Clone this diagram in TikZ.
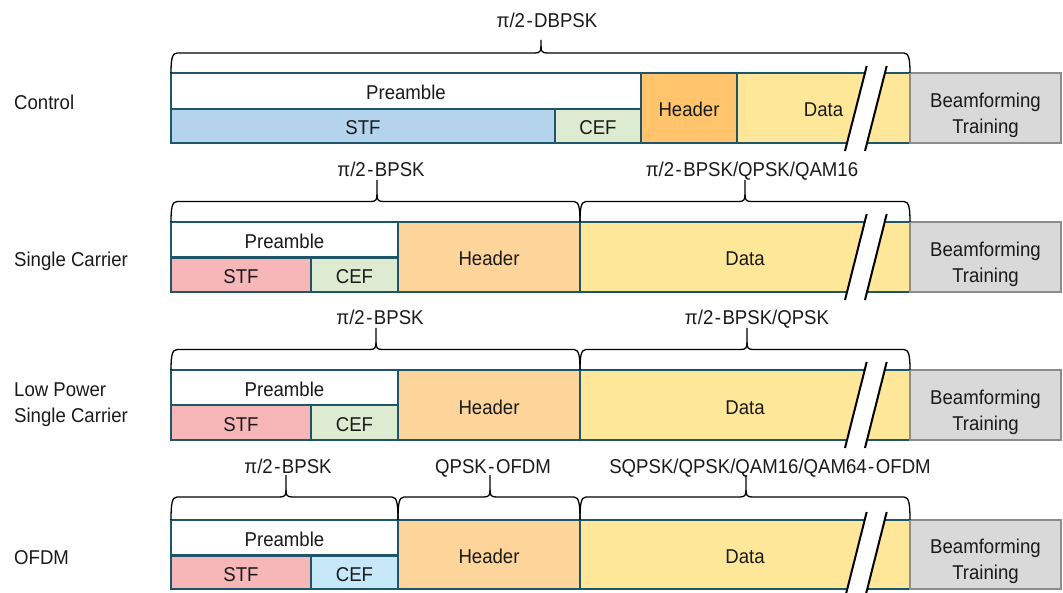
\documentclass[tikz,border=0pt]{standalone}
\usepackage{fontspec}
\setmainfont{Liberation Sans}[FakeStretch=0.93]
\definecolor{edge}{RGB}{30,85,105}
\definecolor{stfblue}{RGB}{180,212,238}
\definecolor{cefgreen}{RGB}{221,235,209}
\definecolor{hdrorange}{RGB}{255,196,108}
\definecolor{hdrlight}{RGB}{253,213,155}
\definecolor{datayellow}{RGB}{255,231,153}
\definecolor{beamfill}{RGB}{217,217,217}
\definecolor{beamedge}{RGB}{140,140,140}
\definecolor{stfpink}{RGB}{247,183,185}
\definecolor{cefcyan}{RGB}{198,232,248}
\definecolor{txt}{RGB}{26,26,26}
\newcommand\hy{\kern1.5pt-\kern1.5pt}
% name, x1, y1, x2, y2, style, text
\newcommand\cellnode[7]{%
  \node[#6, anchor=north west, minimum width={(#4-#2)*1pt}, minimum height={(#5-#3)*1pt}] (#1) at (#2,#3) {#7};}
\newcommand\mybrace[6]{%
  \draw[bracestyle] (#1,#4) .. controls (#1,#5+7) and (#1+1,#5) .. (#1+6,#5) -- (#3-6,#5)
     .. controls (#3-1,#5) and (#3,#5-2) .. (#3,#5-7) -- (#3,#6);
  \draw[bracestyle] (#3,#5-7) .. controls (#3,#5-2) and (#3+1,#5) .. (#3+6,#5) -- (#2-6,#5)
     .. controls (#2-1,#5) and (#2,#5+7) .. (#2,#4);}
\newcommand\mybreak[2]{%
  \fill[white] (866.7,#1) -- (886.7,#1) -- (865,#2) -- (845,#2) -- cycle;
  \draw[breakline] (866.7,#1) -- (845,#2);
  \draw[breakline] (886.7,#1) -- (865,#2);}
\tikzset{
  fnt/.style={font=\fontsize{20}{26}\selectfont, text=txt},
  cell/.style={fnt, draw=edge, line width=2.6pt, inner sep=0pt, outer sep=0pt, text height=18pt, text depth=0pt},
  beam/.style={draw=beamedge, fill=beamfill, line width=2.6pt, inner sep=0pt, outer sep=0pt},
  beamtxt/.style={fnt, align=center, inner sep=0pt},
  lbl/.style={fnt, anchor=base, inner sep=0pt},
  side/.style={fnt, inner sep=0pt, align=left},
  bracestyle/.style={line width=1.3pt, black},
  breakline/.style={line width=2pt, black},
}
\begin{document}
\begin{tikzpicture}[x=1pt,y=-1pt]
\useasboundingbox (0,0) rectangle (1063,593);
% ---------- Row 1: Control
\node[side, anchor=base west] (s1) at (14,110) {Control};
\cellnode{c1pre}{171}{73}{641}{109}{cell,fill=white}{Preamble}
\cellnode{c1stf}{171}{109}{555}{143}{cell,fill=stfblue}{STF}
\cellnode{c1cef}{555}{109}{641}{143}{cell,fill=cefgreen}{CEF}
\cellnode{c1hdr}{641}{73}{737}{143}{cell,fill=hdrorange}{Header}
\cellnode{c1dat}{737}{73}{910}{143}{cell,fill=datayellow}{Data}
\cellnode{b1}{910}{73}{1061}{143}{beam}{}
\node[beamtxt] (b1t) at ([yshift=-7pt]b1.center) {Beamforming\\Training};
\mybrace{171}{910}{541}{73}{53}{40}
\node[lbl] (m1) at (547,28) {π/2\hy DBPSK};
\mybreak{66}{151}
% ---------- Row 2: Single Carrier
\node[side, anchor=base west] (s2) at (14,267) {Single Carrier};
\cellnode{c2pre}{171}{222}{398}{257.5}{cell,fill=white}{Preamble}
\cellnode{c2stf}{171}{257.5}{311}{292}{cell,fill=stfpink}{STF}
\cellnode{c2cef}{311}{257.5}{398}{292}{cell,fill=cefgreen}{CEF}
\cellnode{c2hdr}{398}{222}{580}{292}{cell,fill=hdrlight}{Header}
\cellnode{c2dat}{580}{222}{910}{292}{cell,fill=datayellow}{Data}
\cellnode{b2}{910}{222}{1061}{292}{beam}{}
\node[beamtxt] (b2t) at ([yshift=-7pt]b2.center) {Beamforming\\Training};
\mybrace{171}{580}{377}{222}{201.5}{180}
\mybrace{580}{910}{745}{222}{201.5}{180}
\node[lbl] (m2a) at (381,177) {π/2\hy BPSK};
\node[lbl] (m2b) at (752,177) {π/2\hy BPSK/QPSK/QAM16};
\mybreak{214}{300}
% ---------- Row 3: Low Power Single Carrier
\node[side, anchor=west] (s3) at (14,405) {Low Power\\Single Carrier};
\cellnode{c3pre}{171}{370}{398}{405}{cell,fill=white}{Preamble}
\cellnode{c3stf}{171}{405}{311}{440}{cell,fill=stfpink}{STF}
\cellnode{c3cef}{311}{405}{398}{440}{cell,fill=cefgreen}{CEF}
\cellnode{c3hdr}{398}{370}{580}{440}{cell,fill=hdrlight}{Header}
\cellnode{c3dat}{580}{370}{910}{440}{cell,fill=datayellow}{Data}
\cellnode{b3}{910}{370}{1061}{440}{beam}{}
\node[beamtxt] (b3t) at ([yshift=-7pt]b3.center) {Beamforming\\Training};
\mybrace{171}{580}{376}{370}{349.5}{328}
\mybrace{580}{910}{747}{370}{349.5}{328}
\node[lbl] (m3a) at (380,325) {π/2\hy BPSK};
\node[lbl] (m3b) at (757,325) {π/2\hy BPSK/QPSK};
\mybreak{362}{448}
% ---------- Row 4: OFDM
\node[side, anchor=base west] (s4) at (14,564) {OFDM};
\cellnode{c4pre}{171}{520}{398}{555.5}{cell,fill=white}{Preamble}
\cellnode{c4stf}{171}{555.5}{311}{589}{cell,fill=stfpink}{STF}
\cellnode{c4cef}{311}{555.5}{398}{589}{cell,fill=cefcyan}{CEF}
\cellnode{c4hdr}{398}{520}{580}{589}{cell,fill=hdrlight}{Header}
\cellnode{c4dat}{580}{520}{910}{589}{cell,fill=datayellow}{Data}
\cellnode{b4}{910}{520}{1061}{589}{beam}{}
\node[beamtxt] (b4t) at ([yshift=-7pt]b4.center) {Beamforming\\Training};
\mybrace{171}{398}{286}{520}{497}{475}
\mybrace{398}{580}{490}{520}{497}{475}
\mybrace{580}{910}{746}{520}{497}{475}
\node[lbl] (m4a) at (288,473) {π/2\hy BPSK};
\node[lbl] (m4b) at (493,473) {QPSK\hy OFDM};
\node[lbl] (m4c) at (770,473) {SQPSK/QPSK/QAM16/QAM64\hy OFDM};
\mybreak{512}{598}
\end{tikzpicture}
\end{document}
